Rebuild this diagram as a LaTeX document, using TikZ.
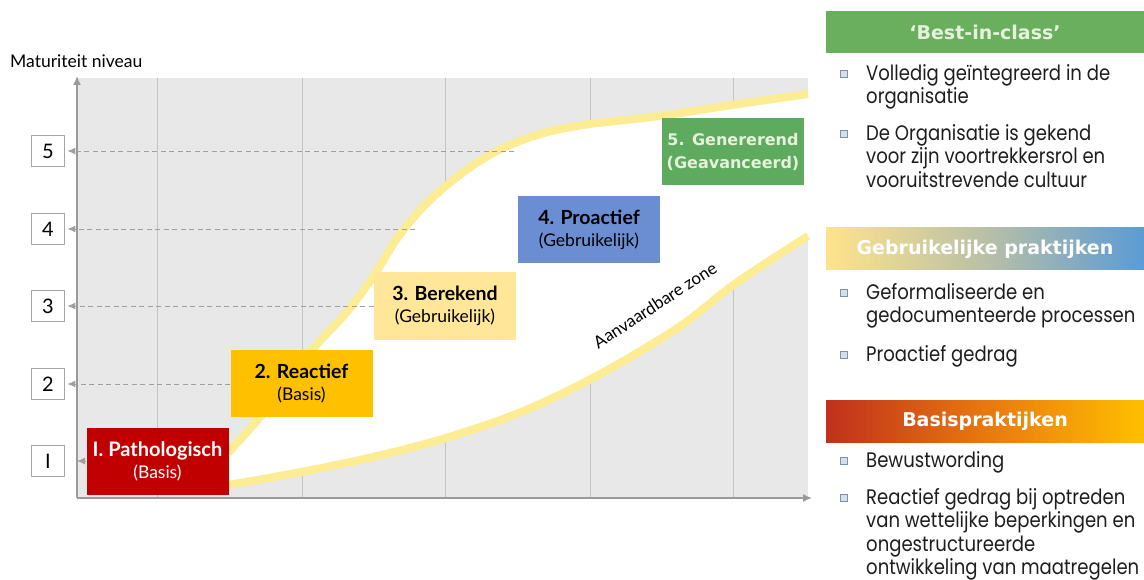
\documentclass[tikz,border=0pt]{standalone}
\usepackage{fontspec}
\setmainfont{Lato}
\newfontfamily\gill{Lato}
\newfontfamily\gothic[FakeStretch=0.86]{Poppins}
\newfontfamily\verd{DejaVu Sans}
\usetikzlibrary{arrows.meta}
\definecolor{bgc}{HTML}{E8E8E8}
\definecolor{gridc}{HTML}{C4C4C4}
\definecolor{axisc}{HTML}{9A9A9A}
\definecolor{dashc}{HTML}{A0A0A0}
\definecolor{curvec}{HTML}{FCEC93}
\definecolor{redbox}{HTML}{C00000}
\definecolor{orbox}{HTML}{FFC000}
\definecolor{ylbox}{HTML}{FFE699}
\definecolor{blbox}{HTML}{6B8ED2}
\definecolor{grbox}{HTML}{5EAA5E}
\definecolor{grhead}{HTML}{6AAF5E}
\definecolor{paletxt}{HTML}{E6F2DC}
\definecolor{bulfill}{HTML}{D6DEEA}
\definecolor{bulline}{HTML}{7F90AA}
\definecolor{bodytxt}{HTML}{1E1E1E}
\definecolor{gradY}{HTML}{FFE38C}
\definecolor{gradM}{HTML}{B9C0A6}
\definecolor{gradB}{HTML}{5B9BD5}
\definecolor{gradR}{HTML}{C0301C}
\definecolor{gradO}{HTML}{E8780F}
\definecolor{gradG}{HTML}{FFC000}
\begin{document}
\begin{tikzpicture}[x=1pt,y=-1pt,
  gridline/.style={draw=gridc,line width=0.9pt},
  axisline/.style={draw=axisc,line width=1.5pt,-{Latex[length=9pt,width=8pt]}},
  lvlline/.style={draw=dashc,line width=0.9pt,dash pattern=on 5pt off 3.5pt,-{Latex[length=8pt,width=7pt]},shorten >=2.5pt},
  lvlbox/.style={draw=gray!70,fill=white,line width=0.8pt,minimum width=33pt,minimum height=31pt,inner sep=0pt,font=\gill\fontsize{20}{20}\selectfont},
  stage/.style={minimum width=142pt,minimum height=67pt,inner sep=0pt,align=center,font=\gill\fontsize{17.5}{22}\selectfont},
  curveline/.style={draw=curvec,line width=8pt},
  head/.style={minimum width=318pt,minimum height=42pt,inner sep=0pt,text=white,font=\verd\bfseries\fontsize{19}{20}\selectfont},
  item/.style={anchor=north west,inner sep=0pt,align=left,text=bodytxt,font=\gothic\fontsize{21}{23.5}\selectfont},
  bul/.style={draw=bulline,fill=bulfill,line width=0.6pt,minimum size=7pt,inner sep=0pt}
]
\useasboundingbox (0,0) rectangle (1144,580);

% plot area
\fill[bgc] (78,78) rectangle (808,498);
\foreach \gx in {157,302,445,590,733} \draw[gridline] (\gx,78) -- (\gx,498);

% acceptable zone
\def\upcurve{(228,453) (266,410) (312,350) (346,313) (373,277) (396,240) (423,207) (457,177) (495,152) (537,135) (583,125) (660,116) (732,105) (808,94)}
\def\lowcurve{(808,236) (736,283) (679,327) (602,373) (526,410) (449,437) (373,457) (296,473) (228,485)}
\fill[white] plot[smooth,tension=0.55] coordinates {\upcurve} -- plot[smooth,tension=0.55] coordinates {\lowcurve} -- cycle;
\draw[curveline] plot[smooth,tension=0.55] coordinates {\upcurve};
\draw[curveline] plot[smooth,tension=0.55] coordinates {\lowcurve};

% axes
\coordinate (O) at (77,498);
\coordinate (ytop) at (77,76);
\coordinate (xend) at (812,498);
\draw[axisline] (O) -- (ytop);
\draw[axisline] (O) -- (xend);

\node[anchor=base west,inner sep=0pt,font=\gill\fontsize{17.5}{18}\selectfont] (ylab) at (10,68) {Maturiteit niveau};

% level boxes
\node[lvlbox] (L5) at (48,151) {5};
\node[lvlbox] (L4) at (48,229) {4};
\node[lvlbox] (L3) at (48,306) {3};
\node[lvlbox] (L2) at (48,384) {2};
\node[lvlbox] (L1) at (48,461) {I};

% stage boxes
\node[stage,fill=redbox,text=white] (S1) at (157.5,461) {{\bfseries\fontsize{20}{22}\selectfont I. Pathologisch}\\(Basis)};
\node[stage,fill=orbox] (S2) at (301.5,383.5) {{\bfseries\fontsize{19.5}{22}\selectfont 2. Reactief}\\(Basis)};
\node[stage,fill=ylbox] (S3) at (445,306) {{\bfseries\fontsize{19.5}{22}\selectfont 3. Berekend}\\(Gebruikelijk)};
\node[stage,fill=blbox] (S4) at (589,229.5) {{\bfseries\fontsize{19.5}{22}\selectfont 4. Proactief}\\(Gebruikelijk)};
\node[stage,fill=grbox,text=paletxt,font=\verd\bfseries\fontsize{16}{23}\selectfont] (S5) at (733,151.5) {5. Genererend\\(Geavanceerd)};

% level connectors
\coordinate (e5) at (514,151);
\coordinate (e4) at (415,229);
\coordinate (e1) at (77,461);
\draw[lvlline] (e5) -- (L5);
\draw[lvlline] (e4) -- (L4);
\draw[lvlline] (S3.west |- L3) -- (L3);
\draw[lvlline] (S2.west |- L2) -- (L2);
\draw[lvlline,shorten >=0pt] (S1.west) -- (e1);

\node[rotate=33,font=\gill\fontsize{17}{17}\selectfont] (zone) at (655,305) {Aanvaardbare zone};

% right panel
\node[head,fill=grhead,text=paletxt] (H1) at (985,32) {‘Best-in-class’};
\node[head,left color=gradY,right color=gradB,middle color=gradM] (H2) at (985,249) {Gebruikelijke praktijken};
\node[head,left color=gradR,right color=gradG,middle color=gradO] (H3) at (985,421) {Basispraktijken};

\node[item] (T1) at (866,64) {Volledig geïntegreerd in de\\organisatie};
\node[item] (T2) at (866,124) {De Organisatie is gekend\\voor zijn voortrekkersrol en\\vooruitstrevende cultuur};
\node[item] (T3) at (866,283) {Geformaliseerde en\\gedocumenteerde processen};
\node[item] (T4) at (866,345) {Proactief gedrag};
\node[item] (T5) at (866,451) {Bewustwording};
\node[item] (T6) at (866,488) {Reactief gedrag bij optreden\\van wettelijke beperkingen en\\ongestructureerde\\ontwikkeling van maatregelen};
\foreach \t/\yy in {T1/74,T2/134,T3/293,T4/355,T5/461,T6/498} \node[bul] (b\t) at (844,\yy) {};
\end{tikzpicture}
\end{document}
